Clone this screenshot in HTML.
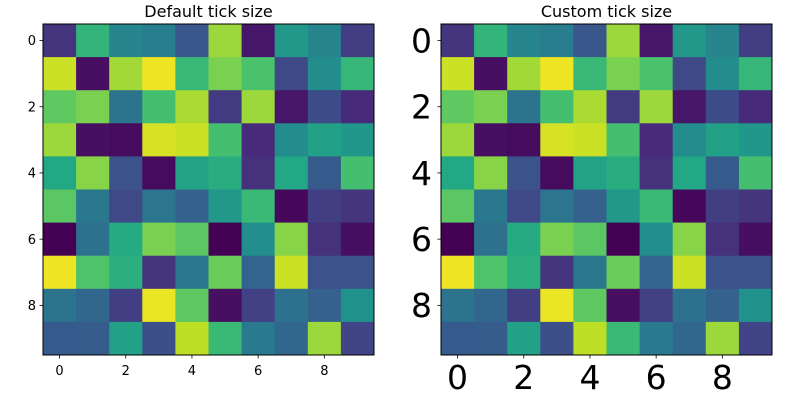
<!DOCTYPE html>
<html><head><meta charset="utf-8"><style>
html,body{margin:0;padding:0;background:#fff;}
svg{display:block;font-family:"DejaVu Sans","Liberation Sans",sans-serif;}
</style></head><body>
<svg id="chart" width="800" height="400" viewBox="0 0 800 400" xmlns="http://www.w3.org/2000/svg"></svg>
<script>
const rowLabels = [0,1,2,3,4,5,6,7,8,9];
const colLabels = [0,1,2,3,4,5,6,7,8,9];
const tickLabels = [0,2,4,6,8];
const values = [
[0.15,0.65,0.45,0.42,0.27,0.85,0.06,0.53,0.45,0.18],
[0.92,0.04,0.86,0.98,0.67,0.80,0.71,0.22,0.48,0.66],
[0.75,0.80,0.38,0.70,0.87,0.17,0.85,0.06,0.23,0.12],
[0.85,0.04,0.03,0.94,0.92,0.70,0.12,0.48,0.57,0.52],
[0.60,0.82,0.25,0.03,0.58,0.62,0.14,0.60,0.28,0.70],
[0.74,0.40,0.22,0.39,0.31,0.53,0.67,0.02,0.18,0.15],
[0.00,0.37,0.61,0.80,0.74,0.00,0.49,0.82,0.14,0.04],
[0.98,0.72,0.63,0.15,0.40,0.77,0.32,0.92,0.25,0.25],
[0.38,0.33,0.18,0.97,0.75,0.04,0.19,0.37,0.31,0.50],
[0.28,0.29,0.57,0.24,0.90,0.67,0.41,0.33,0.85,0.20]
];
const panels = [
  {title:"Default tick size", x0:43, fs:13, name:"default"},
  {title:"Custom tick size", x0:441, fs:33, name:"custom"}
];
const stops=[[68,1,84],[72,36,117],[65,68,135],[53,95,141],[42,120,142],[33,145,140],[34,168,132],[68,191,112],[122,209,81],[189,223,38],[253,231,37]];
function viridis(v){v=Math.max(0,Math.min(1,v));const p=v*10,i=Math.min(9,Math.floor(p)),f=p-i;const a=stops[i],b=stops[i+1];
return `rgb(${a.map((c,k)=>Math.round(c+(b[k]-c)*f)).join(',')})`;}
const svg=document.getElementById('chart');const NS="http://www.w3.org/2000/svg";
function mk(t,at,parent){const e=document.createElementNS(NS,t);for(const k in at)e.setAttribute(k,at[k]);(parent||svg).appendChild(e);return e;}
const y0=24, size=331, n=10, cell=size/n;
panels.forEach(p=>{
  const g=mk('g',{});
  
  
  const xs=c=>p.x0+c*cell, ys=r=>y0+r*cell;
  rowLabels.forEach((r,ri)=>colLabels.forEach((c,ci)=>{
    const rc=mk('rect',{x:xs(ci),y:ys(ri),width:cell+0.5,height:cell+0.5,fill:viridis(values[ri][ci])},g);
    
    
  }));
  const fr=mk('rect',{x:p.x0,y:y0,width:size,height:size,fill:'none',stroke:'#000','stroke-width':1},g);
  
  
  const t=mk('text',{x:p.x0+size/2,y:17,'text-anchor':'middle','font-size':16},g);t.textContent=p.title;
  
  
  tickLabels.forEach(v=>{
    const cx=xs(v)+cell/2, cy=ys(v)+cell/2;
    mk('line',{x1:cx,x2:cx,y1:y0+size,y2:y0+size+3.5,stroke:'#000','stroke-width':0.8},g);
    mk('line',{x1:p.x0,x2:p.x0-3.5,y1:cy,y2:cy,stroke:'#000','stroke-width':0.8},g);
    const big=p.fs>20;
    const tx=mk('text',{x:cx,y:big?389:375,'text-anchor':'middle','font-size':p.fs},g);tx.textContent=v;
    
    
    const ty=mk('text',{x:p.x0-(big?9:7),y:cy+p.fs*0.36,'text-anchor':'end','font-size':p.fs},g);ty.textContent=v;
    
    
  });
});
</script>
</body></html>
